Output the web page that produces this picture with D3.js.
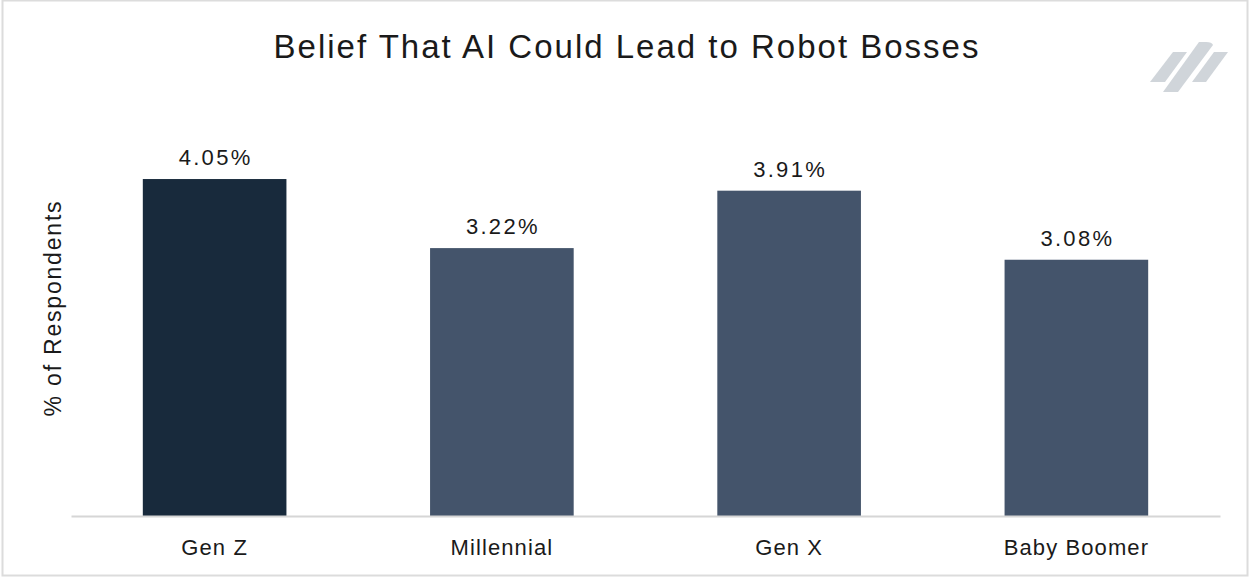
<!DOCTYPE html>
<html>
<head>
<meta charset="utf-8">
<script src="https://cdn.jsdelivr.net/npm/d3@7"></script>
<style>
  html, body { margin: 0; padding: 0; background: #fff; }
  svg { display: block; }
  text { font-family: "Liberation Sans", Arial, sans-serif; fill: #1a1a1a; }
</style>
</head>
<body>
<svg id="chart" width="1250" height="578"></svg>
<script>
// Share of respondents who believe AI could lead to robot bosses, by generation
const categories = ["Gen Z", "Millennial", "Gen X", "Baby Boomer"];
const values = [4.05, 3.22, 3.91, 3.08];
const valueLabels = ["4.05%", "3.22%", "3.91%", "3.08%"];
const highlighted = ["Gen Z"];

const W = 1250, H = 578;
const svg = d3.select("#chart");

// Frame around the card
svg.append("rect")
  .attr("x", 2.5).attr("y", 0.5)
  .attr("width", W - 5).attr("height", H - 3)
  .attr("fill", "#fff").attr("stroke", "#dcdcdc").attr("stroke-width", 2);

const plot = { left: 71, right: 1220, top: 141.6, bottom: 516 };

const x = d3.scaleBand()
  .domain(categories)
  .range([plot.left, plot.right])
  .paddingInner(0.5)
  .paddingOuter(0.25);

const y = d3.scaleLinear()
  .domain([0, 4.5])
  .range([plot.bottom, plot.top]);

// Title
svg.append("text")
  .attr("x", 627).attr("y", 58)
  .attr("text-anchor", "middle")
  .style("font-size", "33px")
  .style("letter-spacing", "2px")
  .text("Belief That AI Could Lead to Robot Bosses");

// Brand mark: three slanted strokes
const mark = svg.append("g").attr("fill", "#d0d5da");
mark.append("path").attr("d", "M1150,82 L1165,82 L1187,52 L1173,52 Z");
mark.append("path").attr("d", "M1163,92 L1178,92 L1213,45 Q1212,42 1206,42 L1199,42 Z");
mark.append("path").attr("d", "M1192,82 L1206,82 L1228,52 L1214,52 Z");

// Bars
svg.append("g").selectAll("rect")
  .data(categories)
  .join("rect")
  .attr("x", d => x(d))
  .attr("width", x.bandwidth())
  .attr("y", (d, i) => y(values[i]))
  .attr("height", (d, i) => y(0) - y(values[i]))
  .attr("fill", d => highlighted.includes(d) ? "#182a3c" : "#44546b");

// Value labels
svg.append("g").selectAll("text")
  .data(categories)
  .join("text")
  .attr("x", d => x(d) + x.bandwidth() / 2 + 1)
  .attr("y", (d, i) => y(values[i]) - 14)
  .attr("text-anchor", "middle")
  .style("font-size", "22px")
  .style("letter-spacing", "2.3px")
  .text((d, i) => valueLabels[i]);

// Category axis
const xAxis = svg.append("g")
  .attr("transform", `translate(0,${plot.bottom})`)
  .call(d3.axisBottom(x).tickSize(0).tickPadding(23));
xAxis.select(".domain").attr("stroke", "#d6d6d6").attr("stroke-width", 2);
xAxis.selectAll("text")
  .style("font-size", "22px")
  .style("letter-spacing", "1.1px")
  .style("font-family", "'Liberation Sans', Arial, sans-serif")
  .attr("fill", "#1a1a1a");

// Y axis title
svg.append("text")
  .attr("transform", "translate(61,308) rotate(-90)")
  .attr("text-anchor", "middle")
  .style("font-size", "23px")
  .style("letter-spacing", "1.8px")
  .text("% of Respondents");
</script>
</body>
</html>
